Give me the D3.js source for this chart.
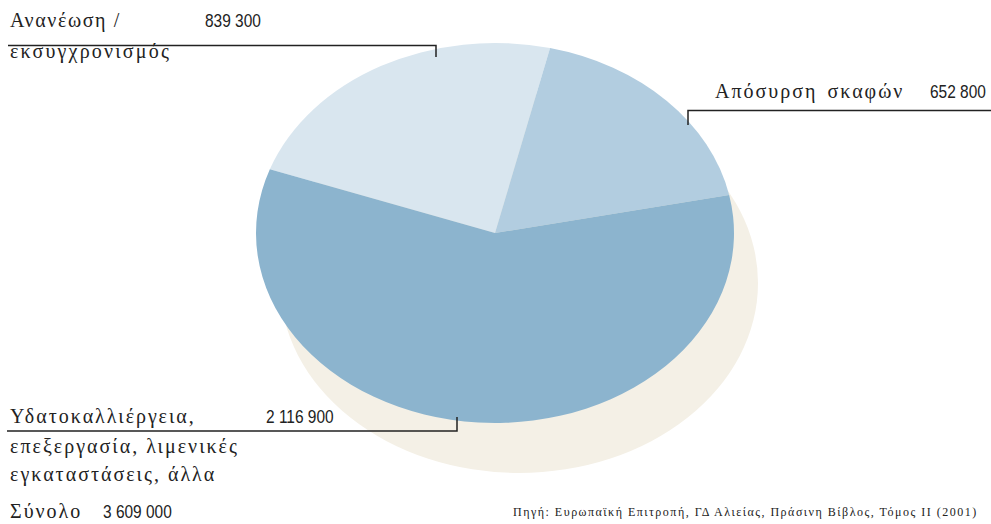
<!DOCTYPE html>
<html>
<head>
<meta charset="utf-8">
<script src="https://cdn.jsdelivr.net/npm/d3@7"></script>
<style>
  html, body { margin: 0; padding: 0; background: #fff; }
  svg { display: block; }
</style>
</head>
<body>
<svg id="chart" width="991" height="524"></svg>
<script>
// ---- data ----
const categories = ["Ανανέωση / εκσυγχρονισμός", "Απόσυρση σκαφών", "Υδατοκαλλιέργεια, επεξεργασία, λιμενικές εγκαταστάσεις, άλλα"];
const values = [839300, 652800, 2116900];
const valueLabels = ["839 300", "652 800", "2 116 900"];
const totalLabel = "Σύνολο";
const totalValue = "3 609 000";
const sourceText = "Πηγή: Ευρωπαϊκή Επιτροπή, ΓΔ Αλιείας, Πράσινη Βίβλος, Τόμος ΙΙ (2001)";
const colors = ["#d9e6ef", "#b2cde0", "#8cb4ce"];

// ---- layout ----
const svg = d3.select("#chart");
const cx = 495, cy = 233, rx = 239, ry = 190;
const shadowDx = 24, shadowDy = 50;
const SERIF = "'Liberation Serif', 'Times New Roman', Times, serif";
const NARROW = "'Liberation Sans', Arial, sans-serif";

const pie = d3.pie().sort(null).value(d => d)
  .startAngle(-70.4 * Math.PI / 180)
  .endAngle((360 - 70.4) * Math.PI / 180);
const arcs = pie(values);
const arc = d3.arc().innerRadius(0).outerRadius(rx);

// shadow
svg.append("ellipse")
  .attr("cx", cx + shadowDx).attr("cy", cy + shadowDy)
  .attr("rx", rx).attr("ry", ry)
  .attr("fill", "#f4f0e6");

const g = svg.append("g")
  .attr("transform", `translate(${cx},${cy}) scale(1,${ry / rx})`);
g.selectAll("path").data(arcs).join("path")
  .attr("d", arc)
  .attr("fill", (d, i) => colors[i]);

// ---- labels & leaders ----
const leader = (pts) => svg.append("path")
  .attr("d", d3.line()(pts))
  .attr("fill", "none").attr("stroke", "#222").attr("stroke-width", 1.5);

const lbl = (x, y, t, ls) => svg.append("text")
  .attr("x", x).attr("y", y)
  .attr("font-family", SERIF).attr("font-size", 20)
  .attr("letter-spacing", ls).attr("fill", "#222").text(t);
const num = (x, y, t) => svg.append("text")
  .attr("transform", `translate(${x},${y}) scale(0.86,1)`)
  .attr("font-family", NARROW).attr("font-size", 18)
  .attr("fill", "#222").text(t);

// Ανανέωση
const parts0 = categories[0].split(" / ");
lbl(10, 27, parts0[0] + " /", 1.6);
num(205, 27, valueLabels[0]);
lbl(10, 58, parts0[1], 2.2);
leader([[8, 45.5], [436, 45.5], [436, 57]]);

// Απόσυρση
lbl(715, 98, categories[1], 2).attr("word-spacing", 3);
num(930, 98, valueLabels[1]);
leader([[688, 125], [688, 110.5], [991, 110.5]]);

// Υδατοκαλλιέργεια
lbl(10, 423, "Υδατοκαλλιέργεια,", 2);
num(266, 423, valueLabels[2]);
lbl(10, 453, "επεξεργασία, λιμενικές", 2);
lbl(10, 481, "εγκαταστάσεις, άλλα", 2);
leader([[7, 431], [457, 431], [457, 417]]);

// total
lbl(10, 518, totalLabel, 2);
num(103, 518, totalValue);

// source
svg.append("text").attr("x", 513).attr("y", 516)
  .attr("font-family", SERIF).attr("font-size", 12)
  .attr("letter-spacing", 1.5).attr("fill", "#222").text(sourceText);
</script>
</body>
</html>
